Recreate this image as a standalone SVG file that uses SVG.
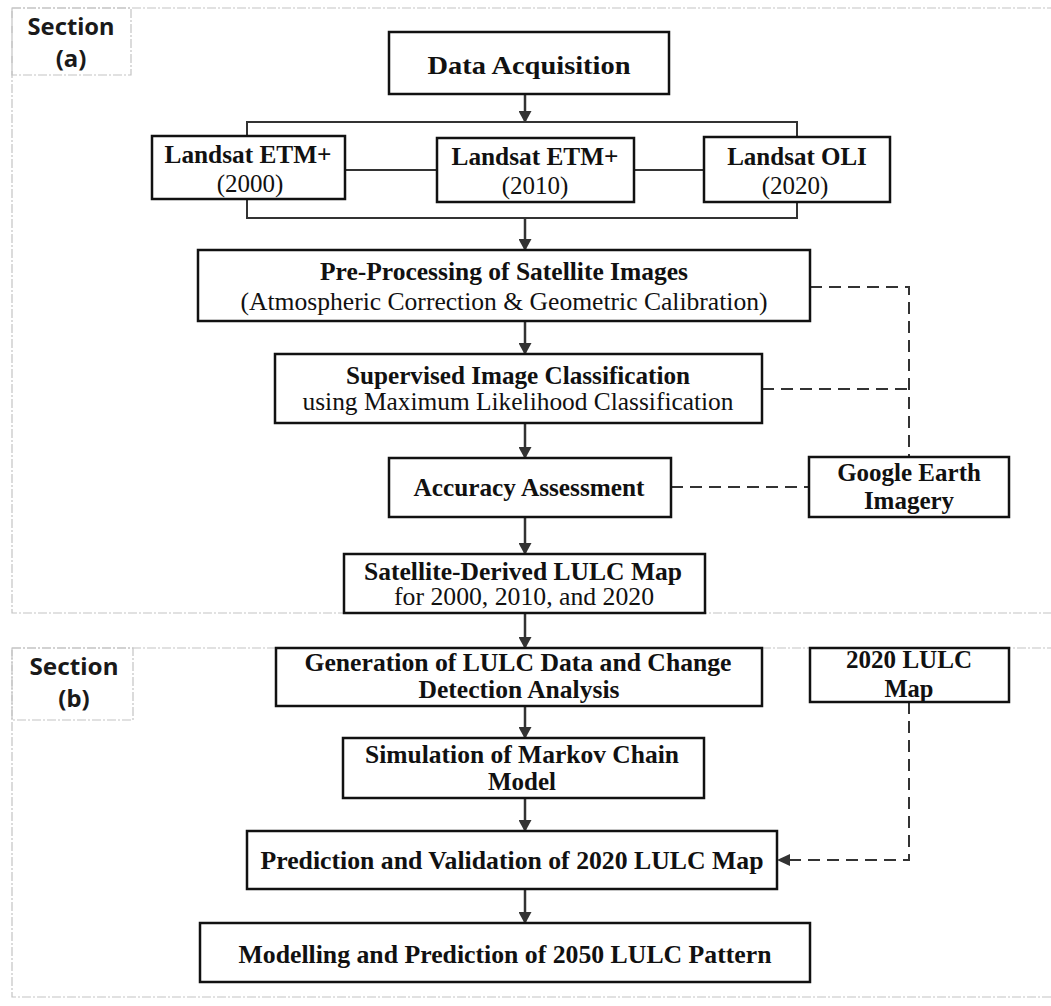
<svg xmlns="http://www.w3.org/2000/svg" width="1051" height="1006" viewBox="0 0 1051 1006">
<defs>
<marker id="ah" markerWidth="12" markerHeight="13" refX="11" refY="6.5" orient="auto" markerUnits="userSpaceOnUse">
<path d="M0,0 L12,6.5 L0,13 Z" fill="#333"/>
</marker>
<style>
.sec{fill:none;stroke:#c4c4c4;stroke-width:1.2;stroke-dasharray:9 2 2 2}
.box{fill:#fff;stroke:#111;stroke-width:2.5}
.ln{fill:none;stroke:#333;stroke-width:2}
.ar{fill:none;stroke:#333;stroke-width:2.5;marker-end:url(#ah)}
.dash{fill:none;stroke:#333;stroke-width:2;stroke-dasharray:12 7}
.sl{font-family:"Noto Sans","Open Sans",sans-serif;font-weight:bold;font-size:24px;fill:#1a1a1a;text-anchor:middle}
.b{font-family:"Liberation Serif","Times New Roman",serif;font-weight:bold;font-size:25px;fill:#111;text-anchor:middle}
.r{font-family:"Liberation Serif","Times New Roman",serif;font-size:25px;fill:#111;text-anchor:middle}
</style>
</defs>
<rect width="1051" height="1006" fill="#fff"/>
<g id="section-a">
<rect class="sec" x="12" y="8" width="1050" height="605"/>
<rect class="sec" x="12" y="8" width="119" height="67"/>
<text class="sl" x="71" y="35" textLength="87" lengthAdjust="spacingAndGlyphs">Section</text>
<text class="sl" x="71" y="67">(a)</text>
</g>
<g id="section-b">
<rect class="sec" x="12" y="648" width="1050" height="349"/>
<rect class="sec" x="12" y="648" width="121" height="72"/>
<text class="sl" x="74" y="675" textLength="89" lengthAdjust="spacingAndGlyphs">Section</text>
<text class="sl" x="74" y="707">(b)</text>
</g>
<g id="connectors">
<line class="ar" x1="525" y1="94" x2="525" y2="122"/>
<polyline class="ln" points="247,136 247,122 797,122 797,137"/>
<polyline class="ln" points="247,199 247,218 797,218 797,202"/>
<line class="ln" x1="345" y1="170" x2="437" y2="170"/>
<line class="ln" x1="634" y1="170" x2="704" y2="170"/>
<line class="ar" x1="525" y1="218" x2="525" y2="250"/>
<line class="ar" x1="525" y1="321" x2="525" y2="354"/>
<line class="ar" x1="525" y1="423" x2="525" y2="458"/>
<line class="ar" x1="525" y1="517" x2="525" y2="554"/>
<line class="ar" x1="525" y1="613" x2="525" y2="648"/>
<line class="ar" x1="525" y1="706" x2="525" y2="738"/>
<line class="ar" x1="525" y1="798" x2="525" y2="831"/>
<line class="ar" x1="525" y1="889" x2="525" y2="923"/>
<polyline class="dash" points="810,287 909,287 909,457"/>
<line class="dash" x1="762" y1="389" x2="909" y2="389"/>
<line class="dash" x1="671" y1="487" x2="809" y2="487"/>
<polyline class="dash" points="909,702 909,860 779,860"/>
<path d="M777,860 L790,854 L790,866 Z" fill="#333"/>
</g>
<g id="data-acquisition">
<rect class="box" x="389" y="32" width="280" height="62"/>
<text class="b" x="529" y="74" font-size="30" textLength="203" lengthAdjust="spacingAndGlyphs">Data Acquisition</text>
</g>
<g id="landsat-2000">
<rect class="box" x="152" y="136" width="193" height="63"/>
<text class="b" x="248" y="163" textLength="167" lengthAdjust="spacingAndGlyphs">Landsat ETM+</text>
<text class="r" x="250" y="192">(2000)</text>
</g>
<g id="landsat-2010">
<rect class="box" x="437" y="138" width="197" height="64"/>
<text class="b" x="535" y="165" textLength="167" lengthAdjust="spacingAndGlyphs">Landsat ETM+</text>
<text class="r" x="535" y="194">(2010)</text>
</g>
<g id="landsat-oli">
<rect class="box" x="704" y="137" width="186" height="65"/>
<text class="b" x="797" y="165">Landsat OLI</text>
<text class="r" x="795" y="194">(2020)</text>
</g>
<g id="pre-processing">
<rect class="box" x="198" y="250" width="612" height="71"/>
<text class="b" x="504" y="280" font-size="26" textLength="368" lengthAdjust="spacingAndGlyphs">Pre-Processing of Satellite Images</text>
<text class="r" x="504" y="310" textLength="527" lengthAdjust="spacingAndGlyphs">(Atmospheric Correction &amp; Geometric Calibration)</text>
</g>
<g id="supervised">
<rect class="box" x="275" y="354" width="487" height="69"/>
<text class="b" x="518" y="384" font-size="26" textLength="344" lengthAdjust="spacingAndGlyphs">Supervised Image Classification</text>
<text class="r" x="518" y="410" textLength="431" lengthAdjust="spacingAndGlyphs">using Maximum Likelihood Classification</text>
</g>
<g id="accuracy">
<rect class="box" x="389" y="458" width="282" height="59"/>
<text class="b" x="529" y="496" font-size="28" textLength="231" lengthAdjust="spacingAndGlyphs">Accuracy Assessment</text>
</g>
<g id="google-earth">
<rect class="box" x="809" y="457" width="200" height="60"/>
<text class="b" x="909" y="481">Google Earth</text>
<text class="b" x="909" y="509">Imagery</text>
</g>
<g id="satellite-lulc">
<rect class="box" x="344" y="554" width="361" height="59"/>
<text class="b" x="523" y="580" font-size="26" textLength="318" lengthAdjust="spacingAndGlyphs">Satellite-Derived LULC Map</text>
<text class="r" x="524" y="605" textLength="260" lengthAdjust="spacingAndGlyphs">for 2000, 2010, and 2020</text>
</g>
<g id="generation">
<rect class="box" x="276" y="648" width="486" height="58"/>
<text class="b" x="518" y="671" font-size="27" textLength="427" lengthAdjust="spacingAndGlyphs">Generation of LULC Data and Change</text>
<text class="b" x="519" y="698" font-size="27" textLength="201" lengthAdjust="spacingAndGlyphs">Detection Analysis</text>
</g>
<g id="lulc-2020-map">
<rect class="box" x="810" y="648" width="199" height="54"/>
<text class="b" x="909" y="668" font-size="27" textLength="126" lengthAdjust="spacingAndGlyphs">2020 LULC</text>
<text class="b" x="909" y="697" font-size="27" textLength="49" lengthAdjust="spacingAndGlyphs">Map</text>
</g>
<g id="simulation">
<rect class="box" x="343" y="738" width="361" height="60"/>
<text class="b" x="522" y="763" font-size="27" textLength="314" lengthAdjust="spacingAndGlyphs">Simulation of Markov Chain</text>
<text class="b" x="522" y="790" font-size="27" textLength="68" lengthAdjust="spacingAndGlyphs">Model</text>
</g>
<g id="prediction-validation">
<rect class="box" x="247" y="831" width="530" height="58"/>
<text class="b" x="512" y="869" font-size="30" textLength="503" lengthAdjust="spacingAndGlyphs">Prediction and Validation of 2020 LULC Map</text>
</g>
<g id="modelling-2050">
<rect class="box" x="200" y="923" width="610" height="59"/>
<text class="b" x="505" y="963" font-size="30" textLength="533" lengthAdjust="spacingAndGlyphs">Modelling and Prediction of 2050 LULC Pattern</text>
</g>
</svg>
